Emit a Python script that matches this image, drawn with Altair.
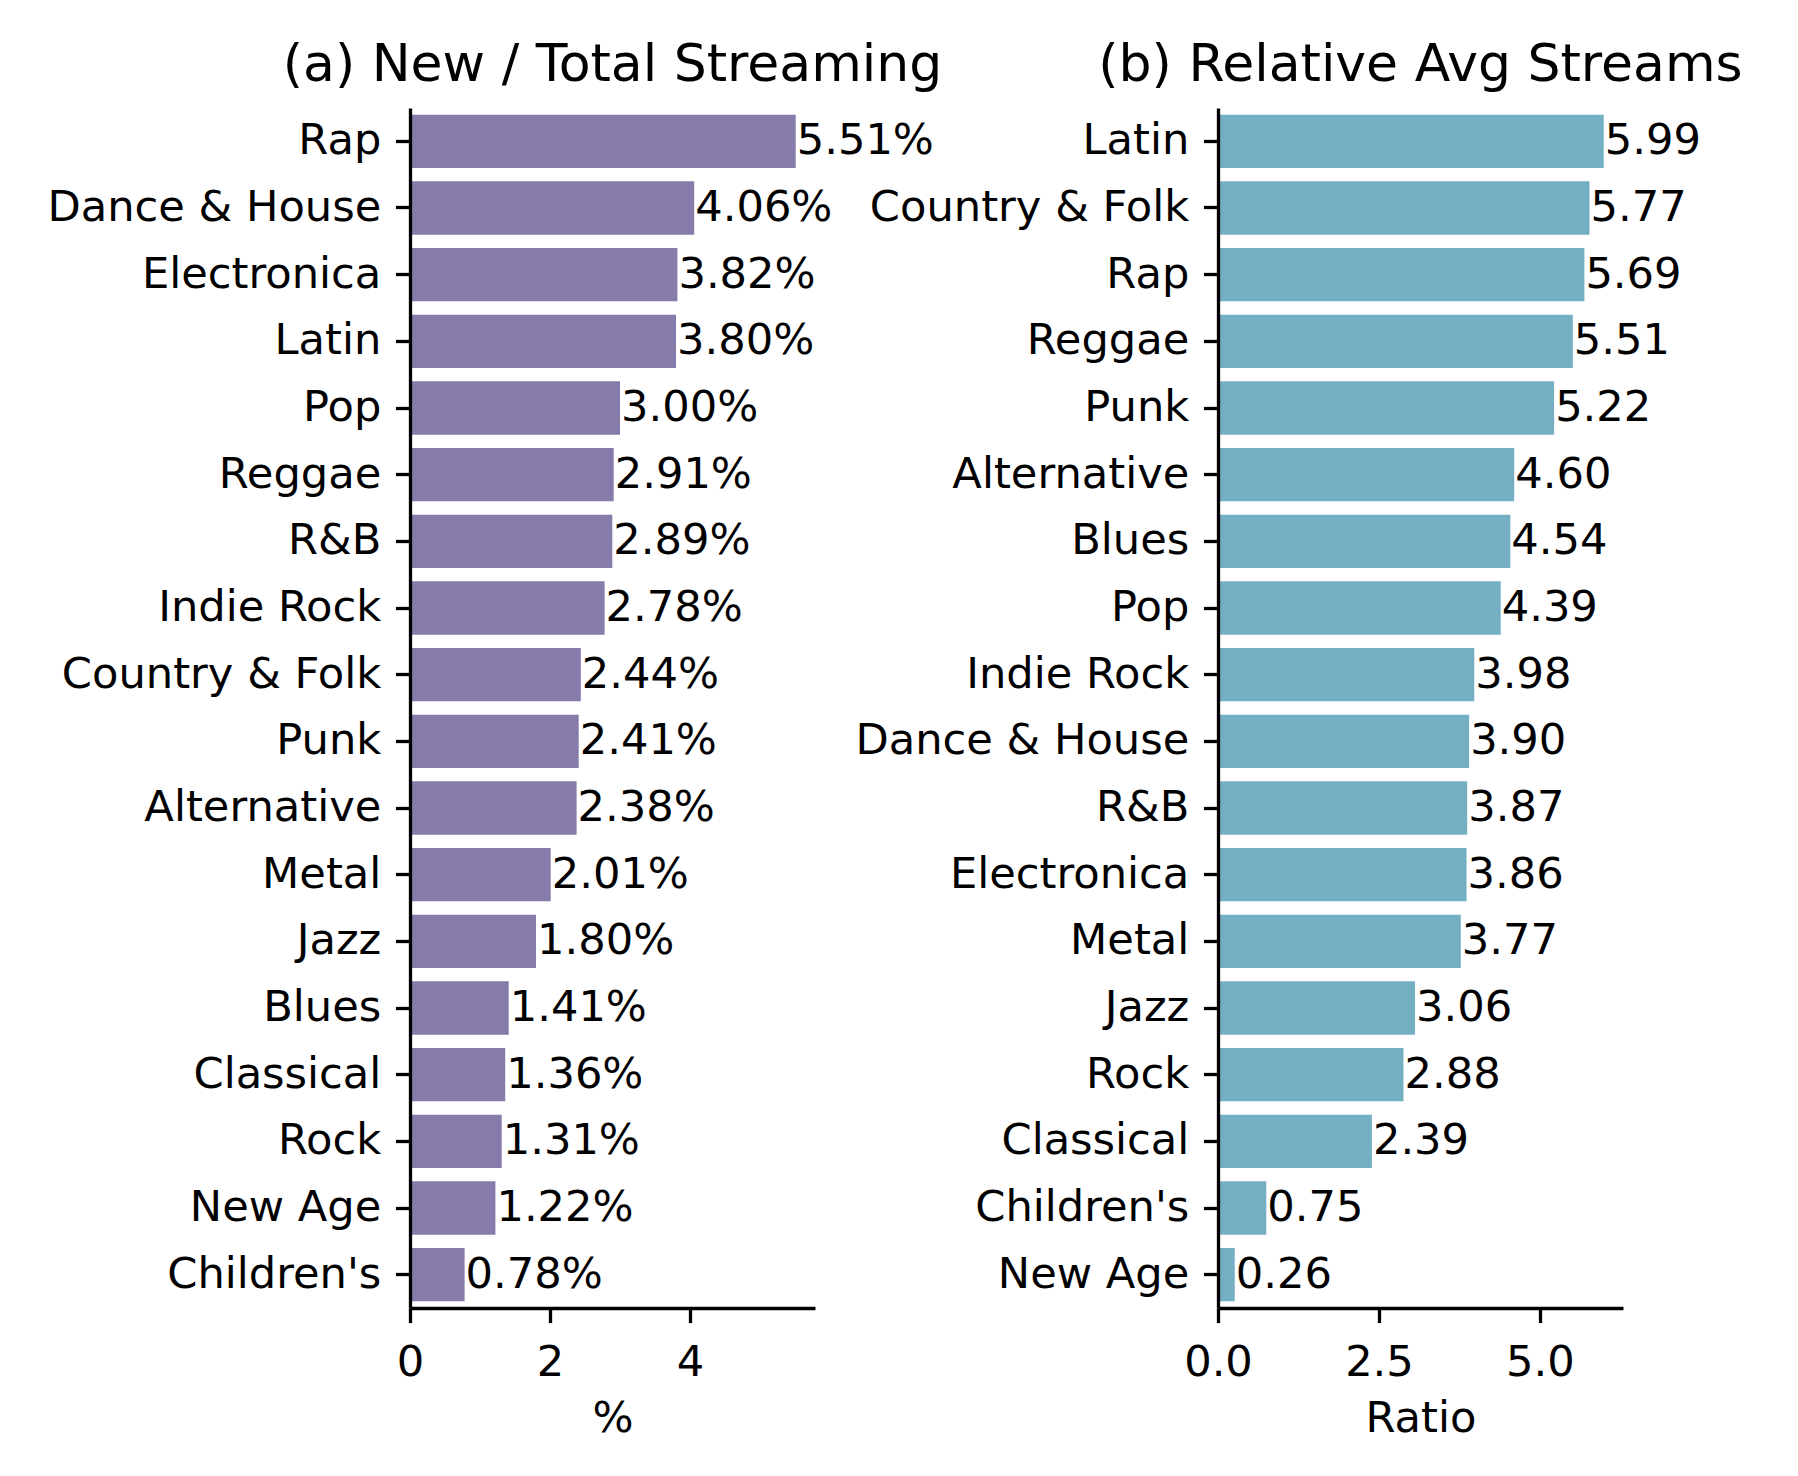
import pandas as pd
import altair as alt

# panel (a): share of new releases in total streaming
a_genres = ["Rap", "Dance & House", "Electronica", "Latin", "Pop", "Reggae", "R&B",
            "Indie Rock", "Country & Folk", "Punk", "Alternative", "Metal", "Jazz",
            "Blues", "Classical", "Rock", "New Age", "Children's"]
a_values = [5.51, 4.06, 3.82, 3.80, 3.00, 2.91, 2.89, 2.78, 2.44, 2.41, 2.38,
            2.01, 1.80, 1.41, 1.36, 1.31, 1.22, 0.78]

# panel (b): relative average streams
b_genres = ["Latin", "Country & Folk", "Rap", "Reggae", "Punk", "Alternative", "Blues",
            "Pop", "Indie Rock", "Dance & House", "R&B", "Electronica", "Metal", "Jazz",
            "Rock", "Classical", "Children's", "New Age"]
b_values = [5.99, 5.77, 5.69, 5.51, 5.22, 4.60, 4.54, 4.39, 3.98, 3.90, 3.87,
            3.86, 3.77, 3.06, 2.88, 2.39, 0.75, 0.26]

df_a = pd.DataFrame({"genre": a_genres, "value": a_values})
df_a["label"] = [f"{v:.2f}%" for v in a_values]
df_b = pd.DataFrame({"genre": b_genres, "value": b_values})
df_b["label"] = [f"{v:.2f}" for v in b_values]

FS = 43.2


def panel(df, title, xtitle, color, xmax, ticks, fmt):
    y = alt.Y("genre:N", sort=list(df["genre"]), title=None,
              scale=alt.Scale(paddingInner=0.2, paddingOuter=0.1),
              axis=alt.Axis(zindex=2))
    x = alt.X("value:Q", title=xtitle,
              scale=alt.Scale(domain=[0, xmax], nice=False, zero=True),
              axis=alt.Axis(values=ticks, format=fmt, labelFlush=False, zindex=2))
    bars = alt.Chart(df).mark_bar(color=color, strokeWidth=0).encode(x=x, y=y)
    text = alt.Chart(df).mark_text(align="left", baseline="middle", dx=1,
                                   fontSize=FS, font="DejaVu Sans", color="black").encode(
        x=alt.X("value:Q"), y=alt.Y("genre:N", sort=list(df["genre"])), text="label:N")
    return alt.layer(bars, text).properties(
        width=405, height=1200,
        title=alt.TitleParams(title, fontSize=52, font="DejaVu Sans", fontWeight="normal",
                              anchor="middle", offset=16, color="black"))


left = panel(df_a, "(a) New / Total Streaming", "%", "#877bab", 5.51 * 1.05, [0, 2, 4], "d")
right = panel(df_b, "(b) Relative Avg Streams", "Ratio", "#74aec3", 5.99 * 1.05, [0, 2.5, 5.0], ".1f")

chart = alt.hconcat(left, right, spacing=403, bounds="flush").properties(
    padding={"left": 38, "top": 31, "right": 5, "bottom": 5}
).configure_view(
    stroke=None
).configure_axis(
    labelFont="DejaVu Sans", labelFontSize=FS, labelColor="black",
    titleFont="DejaVu Sans", titleFontSize=FS, titleColor="black", titleFontWeight="normal",
    domainColor="black", domainWidth=3.3, tickColor="black", tickWidth=3.3, tickSize=14.6,
    labelPadding=14.6, grid=False, labelLimit=600
).configure_axisX(
    labelPadding=19, titlePadding=14
)

chart.save("out.html", embed_options={"renderer": "svg", "actions": False})
